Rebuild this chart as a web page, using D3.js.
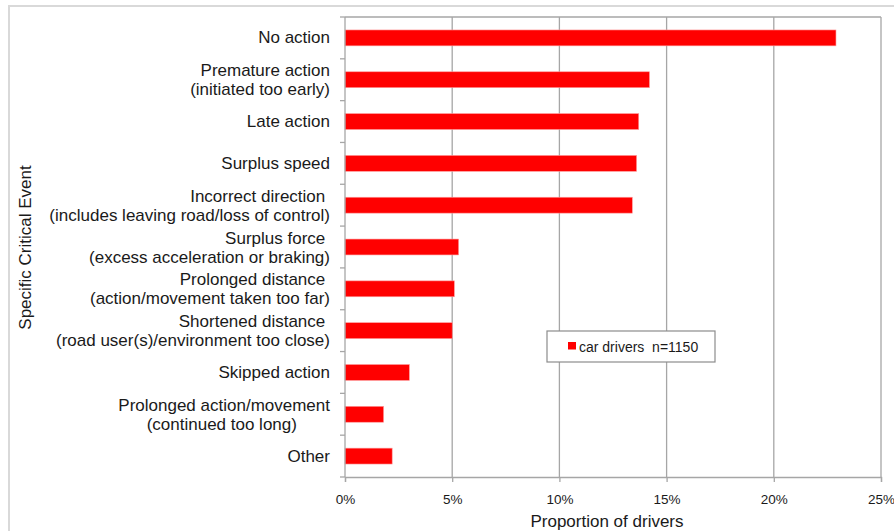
<!DOCTYPE html>
<html>
<head>
<meta charset="utf-8">
<script src="https://cdn.jsdelivr.net/npm/d3@7"></script>
<style>
  html, body { margin: 0; padding: 0; background: #fff; }
  svg { display: block; font-family: "Liberation Sans", Arial, sans-serif; }
  text { white-space: pre; fill: #1a1a1a; }
</style>
</head>
<body>
<svg id="chart" width="894" height="531"></svg>
<script>
// ---- data ----
const categories = [
  ["No action"],
  ["Premature action", "(initiated too early)"],
  ["Late action"],
  ["Surplus speed"],
  ["Incorrect direction ", "(includes leaving road/loss of control)"],
  ["Surplus force ", "(excess acceleration or braking)"],
  ["Prolonged distance ", "(action/movement taken too far)"],
  ["Shortened distance ", "(road user(s)/environment too close)"],
  ["Skipped action"],
  ["Prolonged action/movement", "(continued too long)       "],
  ["Other"]
];
const values = [22.9, 14.2, 13.7, 13.6, 13.4, 5.3, 5.1, 5.0, 3.0, 1.8, 2.2];
const xTicks = [0, 5, 10, 15, 20, 25];
const seriesName = "car drivers  n=1150";
const xTitle = "Proportion of drivers";
const yTitle = "Specific Critical Event";

// ---- layout ----
const svg = d3.select("#chart");
const pL = 345, pR = 881, pT = 17, pB = 477;
const grid = "#a6a6a6";

// outer frame
svg.append("line").attr("x1", 8).attr("x2", 894).attr("y1", 6).attr("y2", 6)
  .attr("stroke", "#d9d9d9").attr("stroke-width", 2);
svg.append("line").attr("x1", 9).attr("x2", 9).attr("y1", 6).attr("y2", 531)
  .attr("stroke", "#d9d9d9").attr("stroke-width", 2);

const x = d3.scaleLinear().domain([0, 25]).range([pL, pR]);
const idx = categories.map((d, i) => i);
const y = d3.scaleBand().domain(idx).range([pT, pB])
  .paddingInner(0.62).paddingOuter(0.31);
const step = y.step();

// plot area top border
svg.append("line").attr("x1", pL).attr("x2", pR).attr("y1", pT).attr("y2", pT)
  .attr("stroke", grid).attr("stroke-width", 1.3);

// gridlines
svg.append("g").selectAll("line").data(xTicks.slice(1)).join("line")
  .attr("x1", d => x(d)).attr("x2", d => x(d))
  .attr("y1", pT).attr("y2", pB)
  .attr("stroke", grid).attr("stroke-width", 1.3);

// bars
svg.append("g").selectAll("rect").data(values).join("rect")
  .attr("x", x(0))
  .attr("y", (d, i) => y(i))
  .attr("width", d => x(d) - x(0))
  .attr("height", y.bandwidth())
  .attr("fill", "#ff0000")
  .attr("stroke", "#ff9a9a").attr("stroke-width", 0.6);

// x axis
const xAxis = d3.axisBottom(x).tickValues(xTicks).tickFormat(d => d + "%")
  .tickSize(5).tickPadding(12);
const gx = svg.append("g").attr("transform", `translate(0,${pB})`).call(xAxis);
gx.select(".domain").attr("stroke", grid).attr("stroke-width", 1.3);
gx.selectAll(".tick line").attr("stroke", grid).attr("stroke-width", 1.3);
gx.selectAll(".tick text").attr("font-size", 13.5).attr("fill", "#1a1a1a")
  .attr("font-family", "Liberation Sans, Arial, sans-serif");

// y axis line and boundary ticks
svg.append("line").attr("x1", pL).attr("x2", pL).attr("y1", pT).attr("y2", pB)
  .attr("stroke", grid).attr("stroke-width", 1.3);
const bounds = d3.range(categories.length + 1).map(i => pT + i * step);
svg.append("g").selectAll("line").data(bounds).join("line")
  .attr("x1", pL - 5).attr("x2", pL)
  .attr("y1", d => d).attr("y2", d => d)
  .attr("stroke", grid).attr("stroke-width", 1.3);

// category labels
const lab = svg.append("g").attr("font-size", 17).attr("text-anchor", "end");
categories.forEach((lines, i) => {
  const c = y(i) + y.bandwidth() / 2;
  const t = lab.append("text").attr("x", 330);
  if (lines.length === 1) {
    t.append("tspan").attr("x", 330).attr("y", c + 5.5).text(lines[0]);
  } else {
    t.append("tspan").attr("x", 330).attr("y", c - 3.5).text(lines[0]);
    t.append("tspan").attr("x", 330).attr("y", c + 15.5).text(lines[1]);
  }
});

// axis titles
svg.append("text").attr("x", 607).attr("y", 527).attr("text-anchor", "middle")
  .attr("font-size", 17).text(xTitle);
svg.append("text").attr("transform", "translate(31,247.5) rotate(-90)")
  .attr("text-anchor", "middle").attr("font-size", 17).text(yTitle);

// legend
const lg = svg.append("g");
lg.append("rect").attr("x", 547).attr("y", 331).attr("width", 168).attr("height", 31)
  .attr("fill", "#fff").attr("stroke", "#8c8c8c").attr("stroke-width", 1.2);
lg.append("rect").attr("x", 568).attr("y", 342).attr("width", 8).attr("height", 7.5)
  .attr("fill", "#ff0000");
lg.append("text").attr("x", 579).attr("y", 351.5).attr("font-size", 14).text(seriesName);
</script>
</body>
</html>
